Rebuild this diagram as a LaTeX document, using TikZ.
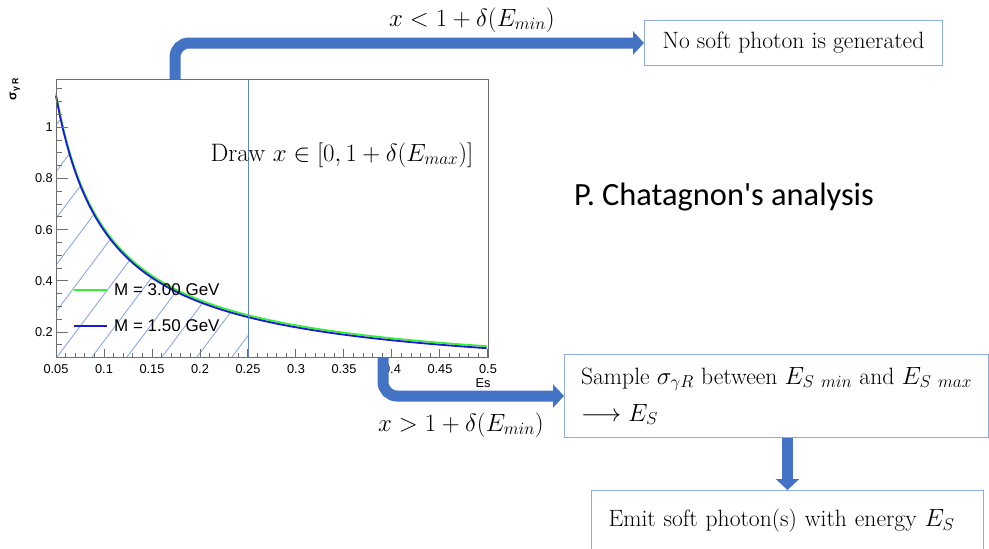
\documentclass[tikz,border=0pt]{standalone}
\usepackage{amsmath,amssymb}
\usepackage{fontspec}
\usepackage{xcolor}
\usepackage{tikz}
\usetikzlibrary{arrows.meta,positioning,calc}
\newfontfamily\rootfont{Liberation Sans}
\newfontfamily\notefont{Carlito}
\definecolor{officeblue}{HTML}{4472C4}
\definecolor{boxblue}{HTML}{8FAADC}
\definecolor{hatchblue}{HTML}{7DA0E6}
\definecolor{framegray}{HTML}{6E6E6E}
\definecolor{curvegreen}{HTML}{33F033}
\definecolor{curveblue}{HTML}{1A1AD6}

\begin{document}
\begin{tikzpicture}[
  x=1pt, y=-1pt,
  declare function={ex(\q)=56+(\q-0.05)*960; sy(\q)=332-(\q-0.2)*256;
    sig(\q)=0.26*(\q/0.25)^(-0.91);},
  stepbox/.style={draw=boxblue, line width=1pt, inner sep=0pt,
    font=\fontsize{23.6}{37}\selectfont},
  cond/.style={font=\fontsize{25.2}{28}\selectfont, inner sep=0pt},
  bigarrow/.style={draw=officeblue, line width=11pt, rounded corners=14pt,
    -{Triangle[length=11pt,width=23pt]}},
  tickline/.style={draw=framegray, line width=0.8pt},
  ticklab/.style={font=\rootfont\fontsize{12.8}{14}\selectfont, inner sep=0pt},
  leglab/.style={font=\rootfont\fontsize{17}{18}\selectfont, inner sep=0pt, anchor=west},
  hatch/.style={draw=hatchblue, line width=0.8pt},
  curve/.style={line width=1.8pt}
]
\useasboundingbox (0,0) rectangle (989,549);

% hatched area under the curve
\begin{scope}
  \clip (56,357) -- plot[domain=0.05:0.25, samples=60] ({ex(\x)},{sy(sig(\x))})
    -- (248,357) -- cycle;
  \foreach \k in {-9,...,6}
    \draw[hatch] (57+35*\k,357) -- ++(300,-400);
\end{scope}

% the two curves
\draw[curve, curvegreen] plot[domain=0.05:0.5, samples=120] ({ex(\x)},{sy(sig(\x))-1.5});
\draw[curve, curveblue] plot[domain=0.05:0.5, samples=120] ({ex(\x)},{sy(sig(\x))+0.5});
\draw[officeblue!85, line width=0.9pt] ({ex(0.25)},79) -- ({ex(0.25)},357);

% frame and axes
\node[draw=framegray, line width=0.9pt, minimum width=432pt, minimum height=278pt,
  inner sep=0pt, anchor=north west] (frame) at (56,79) {};
\foreach \k in {0,...,45}{
  \pgfmathsetmacro\tl{mod(\k,5)==0 ? 8 : 4}
  \draw[tickline] ({ex(0.05+0.01*\k)},357) -- ++(0,-\tl);
}
\foreach \j in {1,...,21}{
  \pgfmathsetmacro\tl{mod(\j-2,4)==0 ? 12 : 6}
  \draw[tickline] (56,{sy(0.1+0.05*\j)}) -- ++(\tl,0);
}
\foreach \val/\n in {0.05/5,0.1/10,0.15/15,0.2/20,0.25/25,0.3/30,0.35/35,0.4/40,0.45/45,0.5/50}
  \node[ticklab] (xl\n) at ({ex(\val)},369) {\val};
\foreach \val/\n in {0.2/2,0.4/4,0.6/6,0.8/8,1/10}
  \node[ticklab, anchor=east] (yl\n) at (53,{sy(\val)}) {\val};
\node[ticklab] (xtitle) at (483,383) {Es};
\node[rotate=90, inner sep=0pt, font=\rootfont\bfseries\fontsize{12.5}{12}\selectfont]
  (ytitle) at (15,89) {σ\textsubscript{γ R}};

% legend
\draw[curve, curvegreen] (74,290) -- (107,290);
\draw[curve, curveblue] (74,326) -- (107,326);
\node[leglab] (leg3) at (114,290) {M = 3.00 GeV};
\node[leglab] (leg1) at (114,326) {M = 1.50 GeV};

\node[cond] (drawx) at (342,155) {Draw $x\in[0,1+\delta(E_{max})]$};
\node[font=\notefont\fontsize{32.4}{36}\selectfont, inner sep=0pt] (author) at (724,197)
  {P. Chatagnon\textquotesingle s analysis};

% flow boxes
\node[stepbox, minimum width=298pt, minimum height=45pt, anchor=north west] (nogen)
  at (644,20) {No soft photon is generated};
\node[stepbox, minimum width=424pt, minimum height=83pt, anchor=north west, align=left]
  (sample) at (564,354)
  {Sample $\sigma_{\gamma R}$ between $E_{S\ min}$ and $E_{S\ max}$\\$\longrightarrow E_S$};
\node[stepbox, minimum height=60pt, anchor=north west, inner xsep=17pt,
  text width=358pt, align=left] (emit)
  at (591,490) {Emit soft photon(s) with energy $E_S$};

% branches
\coordinate (topstart) at (175,79);
\coordinate (botstart) at (383,357);
\draw[bigarrow] (topstart) |- (nogen.west);
\draw[bigarrow] (botstart) |- (sample.west);
\draw[bigarrow] (sample.south -| emit.north) -- (emit.north);
\node[cond] (lowcond) at (472,20) {$x<1+\delta(E_{min})$};
\node[cond] (highcond) at (461,425) {$x>1+\delta(E_{min})$};
\end{tikzpicture}
\end{document}
